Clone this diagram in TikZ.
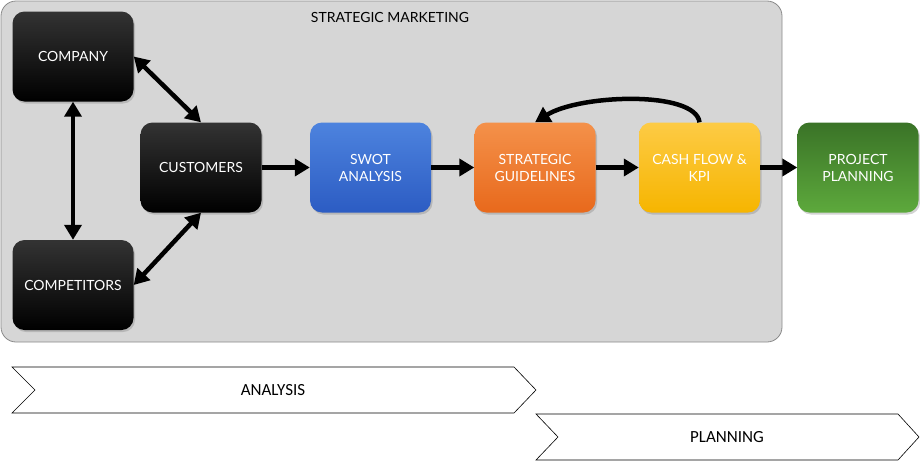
\documentclass[tikz,border=0pt]{standalone}
\usepackage{fontspec}
\setmainfont{Lato}
\newfontfamily\chevfont{Carlito}
\usetikzlibrary{arrows.meta,shadows,calc}
\definecolor{panelgray}{HTML}{D6D6D6}
\definecolor{panelborder}{HTML}{8A8A8A}
\tikzset{
  box/.style={rounded corners=12pt, minimum width=121pt, minimum height=90pt,
    text=white, font=\fontsize{14}{17}\selectfont, align=center, inner sep=2pt,
    drop shadow={shadow xshift=1.5pt, shadow yshift=-2pt, opacity=0.35}},
  arr/.style={line width=4.5pt, -{Triangle[length=15pt,width=17pt]}},
  darr/.style={line width=4.5pt, {Triangle[length=15pt,width=17pt]}-{Triangle[length=15pt,width=17pt]}},
  chev/.style={draw=black, line width=0.6pt, fill=white},
}
\begin{document}
\begin{tikzpicture}[x=1pt,y=-1pt]
\useasboundingbox (0,0) rectangle (920,461);
\definecolor{bluetop}{HTML}{4D83DE}
\definecolor{bluebot}{HTML}{2C5CC3}
\definecolor{orgtop}{HTML}{F4914A}
\definecolor{orgbot}{HTML}{E8691C}
\definecolor{yeltop}{HTML}{FDCB45}
\definecolor{yelbot}{HTML}{F6B500}
\definecolor{grntop}{HTML}{3A7327}
\definecolor{grnbot}{HTML}{5DA93C}
% panel
\draw[panelborder, fill=panelgray, line width=0.8pt, rounded corners=15pt] (1,1) rectangle (782,342);
\node[font=\fontsize{14}{16}\selectfont] (title) at (390,17) {STRATEGIC MARKETING};
% boxes
\node[box, top color=black!80, bottom color=black] (company) at (73,56.5) {COMPANY};
\node[box, top color=black!80, bottom color=black] (customers) at (201,167.5) {CUSTOMERS};
\node[box, top color=black!80, bottom color=black] (competitors) at (73,285) {COMPETITORS};
\node[box, top color=bluetop, bottom color=bluebot] (swot) at (370.5,167.5) {SWOT\\ANALYSIS};
\node[box, top color=orgtop, bottom color=orgbot] (strat) at (535,167.5) {STRATEGIC\\GUIDELINES};
\node[box, top color=yeltop, bottom color=yelbot] (cash) at (699.5,167.5) {CASH FLOW \&\\KPI};
\node[box, top color=grntop, bottom color=grnbot] (proj) at (858,167.5) {PROJECT\\PLANNING};
% connectors
\draw[darr] (company.east) -- (customers.north);
\draw[darr] (competitors.east) -- (customers.south);
\draw[darr] (company.south) -- (competitors.north);
\draw[arr] (customers.east) -- (swot.west);
\draw[arr] (swot.east) -- (strat.west);
\draw[arr] (strat.east) -- (cash.west);
\draw[arr] (cash.east) -- (proj.west);
\draw[arr] (cash.north) .. controls +(-4,-32) and +(45,-28) .. (strat.north);
% chevrons
\draw[chev] (12,367) -- (514,367) -- (536,390) -- (514,413) -- (12,413) -- (35,390) -- cycle;
\node[font=\chevfont\fontsize{17}{19}\selectfont] (analysis) at (273,390) {ANALYSIS};
\draw[chev] (536,414) -- (898,414) -- (919,437) -- (898,460) -- (536,460) -- (558,437) -- cycle;
\node[font=\chevfont\fontsize{17}{19}\selectfont] (planning) at (727,437) {PLANNING};
\end{tikzpicture}
\end{document}
